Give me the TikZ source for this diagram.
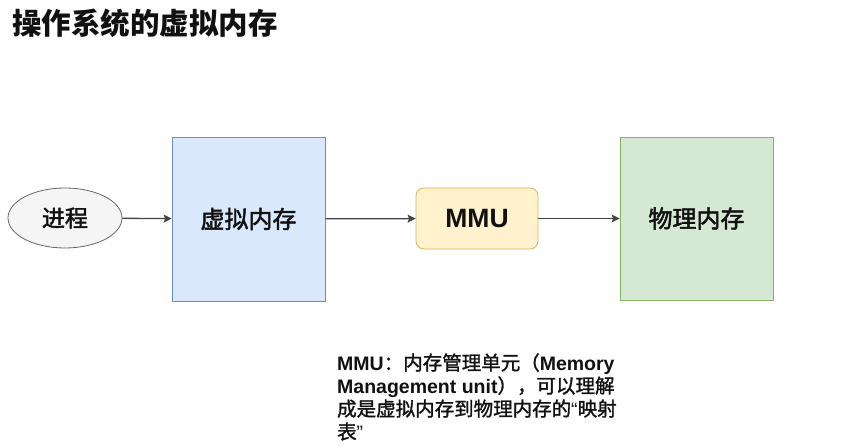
\documentclass[tikz,border=0pt]{standalone}
\usepackage{fontspec}
\setmainfont{Liberation Sans}
\newfontfamily\cjk{Noto Sans CJK SC}
\newfontfamily\cjkm[FakeBold=1.4]{Noto Sans CJK SC}
\newfontfamily\cjkb[FakeBold=2]{Noto Sans CJK SC}
\usetikzlibrary{arrows.meta,shapes.geometric}
\definecolor{bluefill}{HTML}{DAE8FC}
\definecolor{bluedraw}{HTML}{6C8EBF}
\definecolor{yelfill}{HTML}{FFF2CC}
\definecolor{yeldraw}{HTML}{D6B656}
\definecolor{grnfill}{HTML}{D5E8D4}
\definecolor{grndraw}{HTML}{82B366}
\definecolor{grayfill}{HTML}{F5F5F5}
\definecolor{graydraw}{HTML}{666666}
\definecolor{arrowcol}{HTML}{444444}
\definecolor{txt}{HTML}{111111}
\tikzset{
  box/.style={rectangle, inner sep=0pt, line width=0.8pt, text=txt,
    font=\cjkb\fontsize{24}{28}\selectfont},
  vbox/.style={box, fill=bluefill, draw=bluedraw, minimum width=153pt, minimum height=164pt},
  pbox/.style={box, fill=grnfill, draw=grndraw, minimum width=153pt, minimum height=163pt},
  mbox/.style={box, fill=yelfill, draw=yeldraw, rounded corners=8pt, minimum width=122pt, minimum height=61pt,
    font=\bfseries\fontsize{26.5}{30}\selectfont},
  proc/.style={ellipse, fill=grayfill, draw=graydraw, line width=0.8pt, inner sep=0pt,
    minimum width=114pt, minimum height=60pt, text=txt, font=\cjkb\fontsize{23}{27}\selectfont},
  conn/.style={draw=arrowcol, line width=1.3pt, -{Stealth[length=8pt,width=8pt,inset=1.5pt]}},
  note/.style={anchor=base west, inner sep=0pt, text=txt, font=\fontsize{19.5}{23}\selectfont},
}
\begin{document}
\begin{tikzpicture}[x=1pt,y=-1pt]
\useasboundingbox[fill=white] (0,0) rectangle (846,446);
\node[anchor=west, inner sep=0pt, text=txt, font=\cjk\bfseries\fontsize{29.5}{33}\selectfont] (title) at (12,23) {操作系统的虚拟内存};
\node[proc] (proc) at (65,218) {进程};
\node[vbox] (vm) at (248.5,219) {虚拟内存};
\node[mbox] (mmu) at (477,218.5) {MMU};
\node[pbox] (pm) at (696.5,218.5) {物理内存};
\draw[conn] (proc) -- (vm);
\draw[conn] (vm) -- (mmu);
\draw[conn] (mmu) -- (pm);
\node[note] (n1) at (337,370) {\textbf{MMU}{\cjkm ：内存管理单元（}\textbf{Memory}};
\node[note] (n2) at (337,393) {\textbf{Management unit}{\cjkm ），可以理解}};
\node[note] (n3) at (337,416) {{\cjkm 成是虚拟内存到物理内存的}“{\cjkm 映射}};
\node[note] (n4) at (337,439) {{\cjkm 表}”};
\end{tikzpicture}
\end{document}
